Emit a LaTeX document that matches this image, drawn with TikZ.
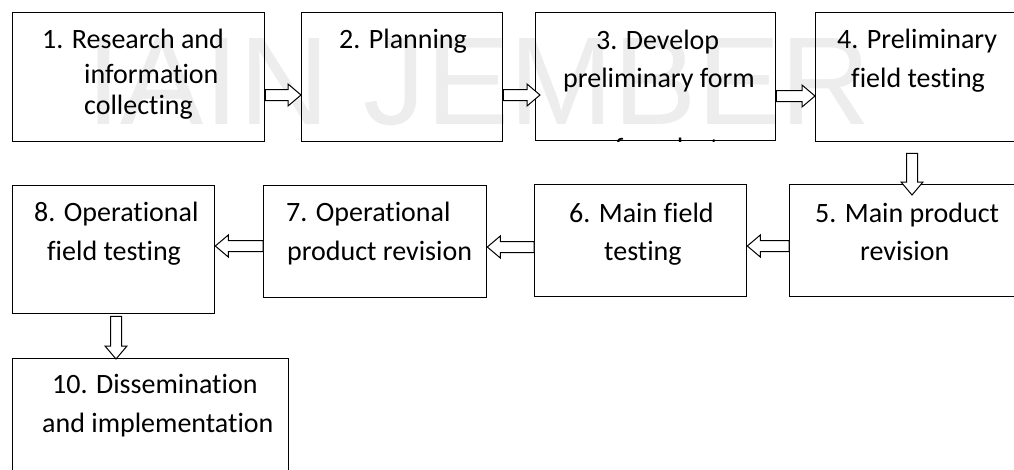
\documentclass[tikz,border=0pt]{standalone}
\usepackage{fontspec}
\setmainfont{Carlito}[Ligatures={NoCommon}]
\newfontfamily\wmfont{Liberation Sans}
\usetikzlibrary{calc}
\tikzset{
  box/.style={draw=black, line width=1.3pt, fill=none, rectangle, inner sep=0pt, anchor=north west},
  lbl/.style={anchor=base west, inner sep=0pt, font=\fontsize{28}{33}\selectfont, text=black},
  barrow/.style={draw=black, fill=white, line width=1pt, line join=miter},
}
% block arrows between named coordinates
\newcommand\arrR[2]{\draw[barrow] ($(#1)+(0,-5.5)$) -- ($(#2)+(-13,-5.5)$) -- ($(#2)+(-13,-11)$) -- (#2) -- ($(#2)+(-13,11)$) -- ($(#2)+(-13,5.5)$) -- ($(#1)+(0,5.5)$) -- cycle;}
\newcommand\arrL[2]{\draw[barrow] ($(#1)+(0,-5.5)$) -- ($(#2)+(13,-5.5)$) -- ($(#2)+(13,-11)$) -- (#2) -- ($(#2)+(13,11)$) -- ($(#2)+(13,5.5)$) -- ($(#1)+(0,5.5)$) -- cycle;}
\newcommand\arrD[2]{\draw[barrow] ($(#1)+(-5.5,0)$) -- ($(#2)+(-5.5,-13)$) -- ($(#2)+(-11,-13)$) -- (#2) -- ($(#2)+(11,-13)$) -- ($(#2)+(5.5,-13)$) -- ($(#1)+(5.5,0)$) -- cycle;}
\begin{document}
\begin{tikzpicture}[x=1pt, y=-1pt]
\useasboundingbox (0,0) rectangle (1014,469);
\clip (0,0) rectangle (1014,469);
\fill[white] (0,0) rectangle (1014,469);
% watermark
\node[anchor=base west, inner sep=0pt, text=black!7, font=\wmfont\fontsize{125}{125}\selectfont] (wm) at (86,124) {IAIN JEMBER};

% boxes
\node[box, minimum width=252pt, minimum height=129pt] (b1) at (12,12) {};
\node[box, minimum width=201pt, minimum height=129pt] (b2) at (301,12) {};
\node[box, minimum width=240pt, minimum height=128pt] (b3) at (535,12) {};
\node[box, minimum width=230pt, minimum height=129pt] (b4) at (815,12) {};
\node[box, minimum width=250pt, minimum height=112pt] (b5) at (789,184) {};
\node[box, minimum width=212pt, minimum height=112pt] (b6) at (534,184) {};
\node[box, minimum width=223pt, minimum height=112pt] (b7) at (263,185) {};
\node[box, minimum width=202pt, minimum height=128pt] (b8) at (12,185) {};
\node[box, minimum width=276pt, minimum height=130pt] (b10) at (12,358) {};

% labels
\node[lbl] (t1a) at (42,48) {1. Research and};
\node[lbl] (t1b) at (84,83) {information};
\node[lbl] (t1c) at (84,114) {collecting};
\node[lbl] (t2a) at (339,48) {2. Planning};
\node[lbl] (t3a) at (596,49) {3. Develop};
\node[lbl] (t3b) at (563,87) {preliminary form};
\begin{scope}
  \clip (b3.north west) rectangle (b3.south east);
  \node[lbl] (t3c) at (600,157) {of product};
\end{scope}
\node[lbl] (t4a) at (837,48) {4. Preliminary};
\node[lbl] (t4b) at (851,87) {field testing};
\node[lbl] (t5a) at (815,222) {5. Main product};
\node[lbl] (t5b) at (860,260) {revision};
\node[lbl] (t6a) at (569,222) {6. Main field};
\node[lbl] (t6b) at (604,260) {testing};
\node[lbl] (t7a) at (286,221) {7. Operational};
\node[lbl] (t7b) at (287,260) {product revision};
\node[lbl] (t8a) at (34,221) {8. Operational};
\node[lbl] (t8b) at (47,260) {field testing};
\node[lbl] (t10a) at (52,393) {10. Dissemination};
\node[lbl] (t10b) at (42,432) {and implementation};

% connector end points
\coordinate (a12s) at (b1.east |- 0,95);
\coordinate (a12e) at (b2.west |- 0,95);
\coordinate (a23s) at (b2.east |- 0,95);
\coordinate (a23e) at ($(b3.west |- 0,95)+(5,0)$);
\coordinate (a34s) at (b3.east |- 0,96);
\coordinate (a34e) at (b4.west |- 0,96);
\coordinate (a45s) at ($(b4.south west)+(97,11)$);
\coordinate (a45e) at ($(b5.north -| a45s)+(0,11)$);
\coordinate (a56s) at (b5.west |- 0,246);
\coordinate (a56e) at (b6.east |- 0,246);
\coordinate (a67s) at (b6.west |- 0,247);
\coordinate (a67e) at (b7.east |- 0,247);
\coordinate (a78s) at (b7.west |- 0,246);
\coordinate (a78e) at (b8.east |- 0,246);
\coordinate (a810s) at ($(b8.south west)+(104,2)$);
\coordinate (a810e) at ($(b10.north -| a810s)+(0,1)$);

\arrR{a12s}{a12e}
\arrR{a23s}{a23e}
\arrR{a34s}{a34e}
\arrD{a45s}{a45e}
\arrL{a56s}{a56e}
\arrL{a67s}{a67e}
\arrL{a78s}{a78e}
\arrD{a810s}{a810e}
\end{tikzpicture}
\end{document}
